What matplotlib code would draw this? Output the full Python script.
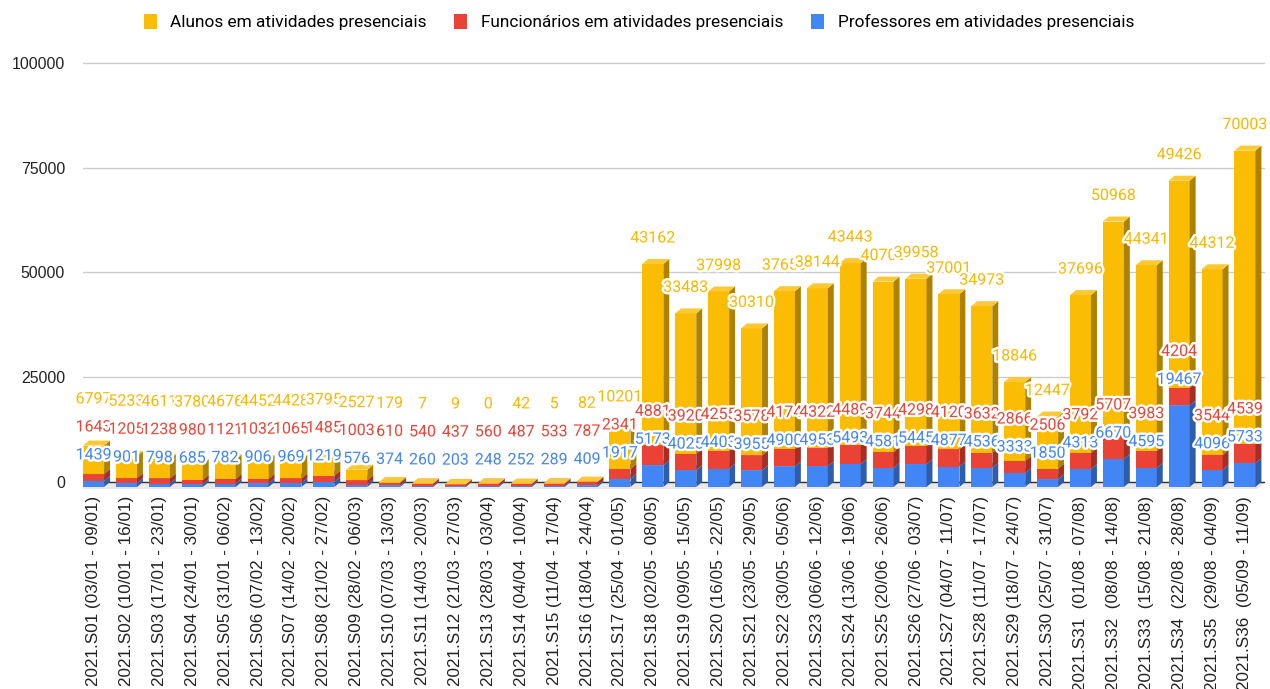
import numpy as np
import matplotlib.pyplot as plt
import matplotlib.patheffects as pe
from matplotlib.patches import Patch

# Semanas (rótulos do eixo x)
weeks = [
    "2021.S01 (03/01 - 09/01)", "2021.S02 (10/01 - 16/01)", "2021.S03 (17/01 - 23/01)",
    "2021.S04 (24/01 - 30/01)", "2021.S05 (31/01 - 06/02)", "2021.S06 (07/02 - 13/02)",
    "2021.S07 (14/02 - 20/02)", "2021.S08 (21/02 - 27/02)", "2021.S09 (28/02 - 06/03)",
    "2021.S10 (07/03 - 13/03)", "2021.S11 (14/03 - 20/03)", "2021.S12 (21/03 - 27/03)",
    "2021.S13 (28/03 - 03/04)", "2021.S14 (04/04 - 10/04)", "2021.S15 (11/04 - 17/04)",
    "2021.S16 (18/04 - 24/04)", "2021.S17 (25/04 - 01/05)", "2021.S18 (02/05 - 08/05)",
    "2021.S19 (09/05 - 15/05)", "2021.S20 (16/05 - 22/05)", "2021.S21 (23/05 - 29/05)",
    "2021.S22 (30/05 - 05/06)", "2021.S23 (06/06 - 12/06)", "2021.S24 (13/06 - 19/06)",
    "2021.S25 (20/06 - 26/06)", "2021.S26 (27/06 - 03/07)", "2021.S27 (04/07 - 11/07)",
    "2021.S28 (11/07 - 17/07)", "2021.S29 (18/07 - 24/07)", "2021.S30 (25/07 - 31/07)",
    "2021.S31  (01/08 - 07/08)", "2021.S32  (08/08 - 14/08)", "2021.S33  (15/08 - 21/08)",
    "2021.S34  (22/08 - 28/08)", "2021.S35  (29/08 - 04/09)", "2021.S36  (05/09 - 11/09)",
]

alunos = [6797, 5233, 4611, 3780, 4676, 4452, 4428, 3795, 2527, 179, 7, 9, 0, 42, 5, 82,
          10201, 43162, 33483, 37998, 30310, 37650, 38144, 43443, 40700, 39958, 37001,
          34973, 18846, 12447, 37696, 50968, 44341, 49426, 44312, 70003]
funcionarios = [1643, 1205, 1238, 980, 1121, 1032, 1065, 1485, 1003, 610, 540, 437, 560, 487,
                533, 787, 2341, 4881, 3920, 4255, 3578, 4174, 4322, 4489, 3744, 4298, 4120,
                3632, 2866, 2506, 3792, 5707, 3983, 4204, 3544, 4539]
professores = [1439, 901, 798, 685, 782, 906, 969, 1219, 576, 374, 260, 203, 248, 252, 289,
               409, 1917, 5173, 4025, 4403, 3955, 4900, 4953, 5493, 4581, 5445, 4877, 4536,
               3333, 1850, 4313, 6670, 4595, 19467, 4096, 5733]

# (valores, frente, lateral, topo, cor do rótulo, legenda) - de baixo para cima
series = [
    (professores, '#4285F4', '#2F5DAA', '#6FA0F6', '#4285F4', 'Professores em atividades presenciais'),
    (funcionarios, '#EA4335', '#A32F25', '#EF6B60', '#EA4335', 'Funcionários em atividades presenciais'),
    (alunos, '#FBBC04', '#AD8200', '#FCC934', '#F9B800', 'Alunos em atividades presenciais'),
]

W = 0.64      # largura da face frontal
DX = 0.18     # profundidade 3D em x
DY = 1190     # profundidade 3D em y
YMIN, YMAX = -2000, 101000

fig = plt.figure(figsize=(12.7, 6.89), dpi=100)
ax_rect = [0.0654, 0.2883, 0.9307, 0.6264]
ax = fig.add_axes(ax_rect)

x = np.arange(len(weeks))
xl, xr = -0.32, 35.61

# chão 3D e linha do zero
ax.fill([xl, xr, xr - DX * 1.3, xl - DX * 1.3], [0, 0, -1.4 * DY, -1.4 * DY],
        color='#e9e9e9', lw=0, zorder=1)
ax.axhline(0, color='#333333', lw=1, zorder=2)

bottom = np.zeros(len(x))
for vals, c_front, c_side, c_top, _, _ in series:
    vals = np.array(vals, dtype=float)
    top = bottom + vals
    ax.bar(x, vals, width=W, bottom=bottom - DY, color=c_front, lw=0, zorder=3)
    for i in range(len(x)):
        x0, x1 = x[i] - W / 2, x[i] + W / 2
        b, t = bottom[i], top[i]
        ax.fill([x1, x1 + DX, x1 + DX, x1], [b - DY, b, t, t - DY], color=c_side, lw=0, zorder=3)
        ax.fill([x0, x1, x1 + DX, x0 + DX], [t - DY, t - DY, t, t], color=c_top, lw=0, zorder=3)
    bottom = top

# rótulos de dados, empurrados para cima para não se sobreporem
u = (YMAX - YMIN) / (ax_rect[3] * 689)   # unidades por pixel
halo = [pe.withStroke(linewidth=3.5, foreground='white')]
bottom = np.zeros(len(x))
prev = np.full(len(x), -1e9)
for vals, _, _, _, c_lab, _ in series:
    vals = np.array(vals, dtype=float)
    top = bottom + vals
    ly = np.maximum(top + 21 * u, prev + 28 * u)
    for i in range(len(x)):
        ax.text(x[i], ly[i], f"{int(vals[i])}", ha='center', va='center', color=c_lab,
                fontsize=11.5, family='Roboto', path_effects=halo, zorder=6)
    prev = ly
    bottom = top

ax.set_xlim(xl, xr)
ax.set_ylim(YMIN, YMAX)
ax.set_yticks([0, 25000, 50000, 75000, 100000])
ax.set_yticklabels(['0', '25000', '50000', '75000', '100000'], family='Liberation Sans',
                   fontsize=11.4, color='#222222')
ax.set_xticks(x)
ax.set_xticklabels(weeks, rotation=90, family='Liberation Sans', fontsize=12.3,
                   color='#222222', ha='center', va='top')
ax.tick_params(axis='both', length=0)
ax.tick_params(axis='y', pad=13)
ax.tick_params(axis='x', pad=4)
ax.grid(axis='y', color='#cccccc', lw=1, zorder=0)
ax.set_axisbelow(True)
for s in ax.spines.values():
    s.set_visible(False)

handles = [Patch(facecolor=s[1], label=s[5]) for s in reversed(series)]
fig.legend(handles=handles, loc='center', bbox_to_anchor=(0.503, 1 - 22 / 689), ncol=3,
           frameon=False, prop={'family': 'Roboto', 'size': 12.4}, handlelength=0.75,
           handleheight=0.95, handletextpad=0.8, columnspacing=1.6)

fig.savefig('out.png', dpi=100)
